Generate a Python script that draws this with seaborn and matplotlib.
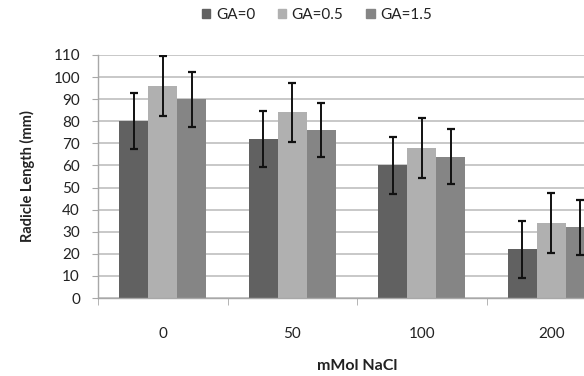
import numpy as np
import pandas as pd
import matplotlib
matplotlib.use("Agg")
import matplotlib.pyplot as plt
import seaborn as sns

categories = ["0", "50", "100", "200"]
series_names = ["GA=0", "GA=0.5", "GA=1.5"]
ga0 = [80, 72, 60, 22]
ga05 = [96, 84, 68, 34]
ga15 = [90, 76, 64, 32]
err0 = [12.7, 12.7, 12.8, 12.9]
err05 = [13.5, 13.3, 13.7, 13.5]
err15 = [12.5, 12.3, 12.6, 12.5]
colors = ["#616161", "#b0b0b0", "#858585"]

rows = []
for name, vals, errs in zip(series_names, [ga0, ga05, ga15], [err0, err05, err15]):
    for c, v, e in zip(categories, vals, errs):
        rows.append({"NaCl": c, "GA": name, "value": v, "err": e})
df = pd.DataFrame(rows)

sns.set_style("white")
plt.rcParams["font.family"] = ["Lato", "DejaVu Sans"]

fig = plt.figure(figsize=(5.84, 3.76), dpi=100)
ax = fig.add_axes([98 / 584, 78 / 376, 518 / 584, 243 / 376])

sns.barplot(data=df, x="NaCl", y="value", hue="GA", order=categories,
            hue_order=series_names, palette=colors, width=0.67,
            errorbar=None, linewidth=0, ax=ax, legend=True, zorder=2)

# error bars positioned at bar centres from the library's patches
for cont, name in zip(ax.containers, series_names):
    sub = df[df["GA"] == name].set_index("NaCl").loc[categories]
    xs = [b.get_x() + b.get_width() / 2 for b in cont]
    ax.errorbar(xs, sub["value"].values, yerr=sub["err"].values, fmt="none",
                ecolor="#111111", elinewidth=1.4, capsize=3, capthick=1.6,
                zorder=3)

ax.set_ylim(0, 110)
ax.set_xlim(-0.5, 3.5)
ax.set_yticks(np.arange(0, 111, 10))
ax.yaxis.grid(True, color="#c4c4c4", linewidth=1.3, zorder=0)
ax.set_axisbelow(True)
ax.xaxis.grid(False)
for s in ["top", "right"]:
    ax.spines[s].set_visible(False)
for s in ["left", "bottom"]:
    ax.spines[s].set_color("#a8a8a8")
    ax.spines[s].set_linewidth(1.0)

ax.set_xticks(np.arange(-0.5, 4, 1), minor=True)
ax.tick_params(axis="x", which="major", length=0, pad=21, labelsize=11,
               colors="#222222")
ax.tick_params(axis="x", which="minor", length=5, color="#a8a8a8",
               direction="out", bottom=True)
ax.tick_params(axis="y", which="major", length=4, color="#a8a8a8",
               direction="out", left=True, pad=9, labelsize=11,
               labelcolor="#222222")

ax.set_xlabel("mMol NaCl", fontsize=11.5, fontweight="bold", labelpad=13,
              color="#222222")
ax.set_ylabel("Radicle Length (mm)", fontsize=10.5, fontweight="bold",
              labelpad=13, color="#222222")

ax.legend_.remove()
handles = [plt.Rectangle((0, 0), 1, 1, color=c) for c in colors]
fig.legend(handles, series_names, loc="center", ncol=3,
           bbox_to_anchor=(317 / 584, 1 - 15 / 376), frameon=False,
           fontsize=11, handlelength=0.55, handleheight=0.55,
           handletextpad=0.35, columnspacing=1.5, labelcolor="#222222")

fig.savefig("out.png", dpi=100)
